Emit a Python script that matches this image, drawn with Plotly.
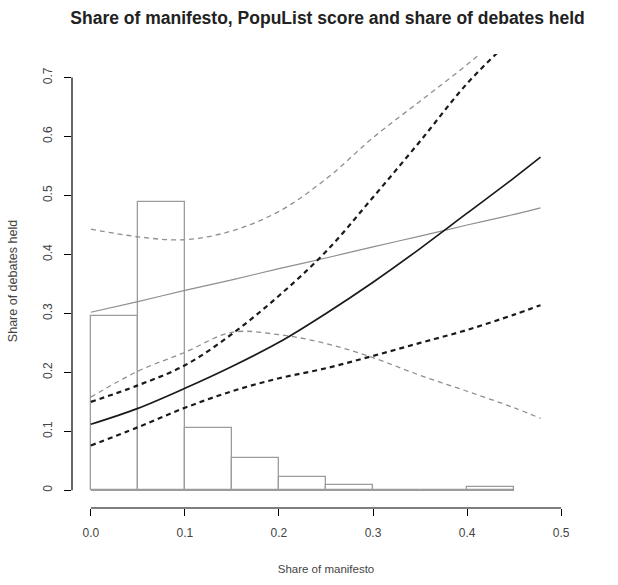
import plotly.graph_objects as go

# ---- data ----
x_grid = [0.0, 0.05, 0.1, 0.15, 0.2, 0.25, 0.3, 0.35, 0.4, 0.45, 0.478]

populist_fit = [0.302, 0.320, 0.339, 0.357, 0.376, 0.394, 0.413, 0.431, 0.450, 0.468, 0.479]
populist_upper = [0.443, 0.430, 0.425, 0.440, 0.473, 0.528, 0.598, 0.660, 0.722, 0.790, 0.830]
populist_lower = [0.158, 0.202, 0.234, 0.268, 0.264, 0.249, 0.225, 0.195, 0.168, 0.140, 0.122]

manifesto_fit = [0.112, 0.139, 0.173, 0.210, 0.251, 0.300, 0.353, 0.410, 0.470, 0.530, 0.565]
manifesto_upper = [0.150, 0.178, 0.212, 0.265, 0.330, 0.405, 0.497, 0.592, 0.690, 0.770, 0.815]
manifesto_lower = [0.076, 0.107, 0.140, 0.168, 0.190, 0.207, 0.228, 0.250, 0.272, 0.298, 0.314]

hist_left = [0.0, 0.05, 0.10, 0.15, 0.20, 0.25, 0.30, 0.35, 0.40]
hist_height = [0.295, 0.489, 0.105, 0.055, 0.022, 0.0095, 0.0, 0.0, 0.005]
bin_width = 0.05

x_ticks = [0.0, 0.1, 0.2, 0.3, 0.4, 0.5]
x_ticklabels = ["0.0", "0.1", "0.2", "0.3", "0.4", "0.5"]
y_ticks = [0, 0.1, 0.2, 0.3, 0.4, 0.5, 0.6, 0.7]
y_ticklabels = ["0", "0.1", "0.2", "0.3", "0.4", "0.5", "0.6", "0.7"]

title = "Share of manifesto, PopuList score and share of debates held"
x_title = "Share of manifesto"
y_title = "Share of debates held"

FONT = "Liberation Sans, Arial, sans-serif"
GREY = "#8f8f8f"
BLACK = "#1a1a1a"

fig = go.Figure()

# histogram (outlined bars)
fig.add_trace(go.Bar(
    x=[l + bin_width / 2 for l in hist_left], y=hist_height, width=bin_width,
    marker=dict(color="rgba(0,0,0,0)", line=dict(color="#9c9c9c", width=1.3)),
    hoverinfo="skip", showlegend=False))
fig.add_trace(go.Scatter(
    x=[hist_left[0], hist_left[-1] + bin_width], y=[0, 0], mode="lines",
    line=dict(color="#9c9c9c", width=1.3), hoverinfo="skip", showlegend=False))

def add_line(y, color, width, dash):
    fig.add_trace(go.Scatter(x=x_grid, y=y, mode="lines", line_shape="spline",
                             line=dict(color=color, width=width, dash=dash),
                             showlegend=False, cliponaxis=True))

add_line(populist_fit, GREY, 1.2, "solid")
add_line(populist_upper, GREY, 1.3, "5px,4px")
add_line(populist_lower, GREY, 1.3, "5px,4px")
add_line(manifesto_fit, BLACK, 1.7, "solid")
add_line(manifesto_upper, BLACK, 2.2, "5px,4px")
add_line(manifesto_lower, BLACK, 2.2, "5px,4px")

# R-style axis lines spanning first to last tick
fig.add_shape(type="line", xref="x", yref="paper", x0=x_ticks[0], x1=x_ticks[-1], y0=0, y1=0,
              line=dict(color="black", width=1.2))
fig.add_shape(type="line", xref="paper", yref="y", x0=0, x1=0, y0=y_ticks[0], y1=y_ticks[-1],
              line=dict(color="black", width=1.2))

fig.update_layout(
    width=618, height=585,
    margin=dict(l=72, r=38, t=54, b=77),
    paper_bgcolor="white", plot_bgcolor="white",
    font=dict(family=FONT, color="#333333", size=12),
    title=dict(text="<b>" + title + "</b>", x=0.53, xanchor="center", y=0.969, yanchor="middle",
               font=dict(size=17.5, color="#222222", family=FONT)),
    bargap=0,
    xaxis=dict(range=[-0.02, 0.52], tickmode="array", tickvals=x_ticks, ticktext=x_ticklabels,
               ticks="outside", ticklen=7, tickwidth=1.2, tickcolor="black", automargin=False,
               showgrid=False, zeroline=False, showline=False, ticklabelstandoff=7,
               tickfont=dict(size=12, color="#444444"),
               title=dict(text=x_title, font=dict(size=11.5, color="#444444"), standoff=25)),
    yaxis=dict(range=[-0.03, 0.74], tickmode="array", tickvals=y_ticks, ticktext=y_ticklabels,
               ticks="outside", ticklen=7, tickwidth=1.2, tickcolor="black", tickangle=-90,
               showgrid=False, zeroline=False, showline=False, ticklabelstandoff=7,
               automargin=False,
               tickfont=dict(size=12, color="#444444"),
               title=dict(text=y_title, font=dict(size=12.5, color="#444444"), standoff=20)),
)

fig.write_html("out.html")
